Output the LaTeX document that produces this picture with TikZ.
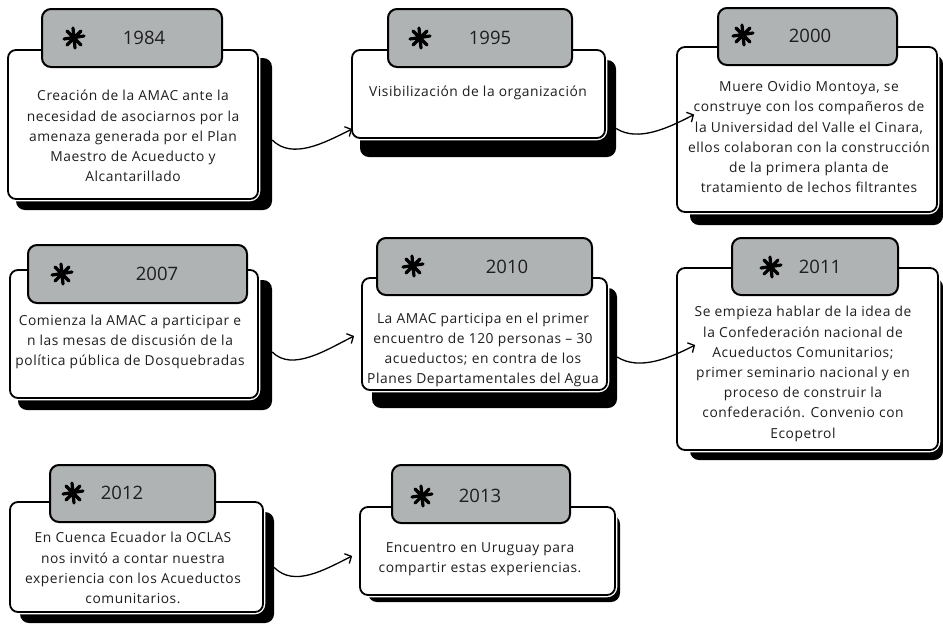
\documentclass[tikz,border=0pt]{standalone}
\usepackage{fontspec}
\setmainfont{Open Sans}
\newfontfamily\cardfont{Open Sans}[LetterSpace=4.0]
\usetikzlibrary{fit,calc,arrows.meta}
\definecolor{headgray}{RGB}{175,179,179}
\definecolor{inkgray}{RGB}{30,30,30}
\tikzset{
  shadowbox/.style={fill=black, rounded corners=9pt, inner sep=0pt},
  cardbox/.style={fill=white, draw=black, line width=1.8pt, rounded corners=8pt,
    inner sep=0pt, preaction={draw=white, line width=4.5pt}},
  headbox/.style={fill=headgray, draw=black, line width=2pt, rounded corners=9pt, inner sep=0pt},
  cardtext/.style={align=center, text=inkgray, font=\cardfont\fontsize{13.8}{20.2}\selectfont},
  yeartext/.style={text=inkgray, font=\fontsize{18.5}{22}\selectfont},
  link/.style={line width=1.3pt, -{Straight Barb[length=5pt,width=11pt]}},
  asterisk/.pic={
    \draw[line width=3.2pt, line cap=round]
      (-1,-10) -- (1,10)
      (-10,1) -- (10,-2)
      (-7,-7) -- (7,7)
      (-7,7) -- (7,-7);
  }
}
\begin{document}
\begin{tikzpicture}[x=1pt, y=-1pt]
  \useasboundingbox (0,0) rectangle (943,625);
  % 1984
  \node[shadowbox, fit={(16,58) (272,210)}] (shadow1984) {};
  \node[cardbox, fit={(8,50) (258,199)}] (box1984) {};
  \node[headbox, fit={(42,9) (222,67)}] (head1984) {};
  \pic at (74,38) {asterisk};
  \node[yeartext] (year1984) at (144,38) {1984};
  \node[cardtext] (text1984) at (133,136) {Creación de la AMAC ante la\\
    necesidad de asociarnos por la\\ amenaza generada por el Plan\\
    Maestro de Acueducto y\\ Alcantarillado};
  % 1995
  \node[shadowbox, fit={(360,60) (616,157)}] (shadow1995) {};
  \node[cardbox, fit={(352,50) (605,138)}] (box1995) {};
  \node[headbox, fit={(388,9) (572,67)}] (head1995) {};
  \pic at (420,38) {asterisk};
  \node[yeartext] (year1995) at (490,38) {1995};
  \node[cardtext] (text1995) at (478,93) {Visibilización de la organización};
  % 2000
  \node[shadowbox, fit={(690,55) (943,225)}] (shadow2000) {};
  \node[cardbox, fit={(677,47) (937,212)}] (box2000) {};
  \node[headbox, fit={(718,8) (897,65)}] (head2000) {};
  \pic at (743,35) {asterisk};
  \node[yeartext] (year2000) at (810,36) {2000};
  \node[cardtext] (text2000) at (809,137) {Muere Ovidio Montoya, se\\
    construye con los compañeros de\\ la Universidad del Valle el Cinara,\\
    ellos colaboran con la construcción\\ de la primera planta de\\
    tratamiento de lechos filtrantes};
  % 2007
  \node[shadowbox, fit={(18,280) (272,410)}] (shadow2007) {};
  \node[cardbox, fit={(10,270) (258,398)}] (box2007) {};
  \node[headbox, fit={(28,245) (247,303)}] (head2007) {};
  \pic at (62,274) {asterisk};
  \node[yeartext] (year2007) at (157,274) {2007};
  \node[cardtext] (text2007) at (130,342) {Comienza la AMAC a participar e\\
    n las mesas de discusión de la\\ política pública de Dosquebradas};
  % 2010
  \node[shadowbox, fit={(372,288) (617,408)}] (shadow2010) {};
  \node[cardbox, fit={(362,278) (607,390)}] (box2010) {};
  \node[headbox, fit={(377,238) (592,295)}] (head2010) {};
  \pic at (413,266) {asterisk};
  \node[yeartext] (year2010) at (507,267) {2010};
  \node[cardtext] (text2010) at (483,350) {La AMAC participa en el primer\\
    encuentro de 120 personas – 30\\ acueductos; en contra de los\\
    Planes Departamentales del Agua};
  % 2011
  \node[shadowbox, fit={(690,278) (943,460)}] (shadow2011) {};
  \node[cardbox, fit={(677,268) (938,450)}] (box2011) {};
  \node[headbox, fit={(732,238) (898,295)}] (head2011) {};
  \pic at (771,267) {asterisk};
  \node[yeartext] (year2011) at (820,267) {2011};
  \node[cardtext] (text2011) at (803,374) {Se empieza hablar de la idea de\\
    la Confederación nacional de\\ Acueductos Comunitarios;\\
    primer seminario nacional y en\\ proceso de construir la\\
    confederación. Convenio con\\ Ecopetrol};
  % 2012
  \node[shadowbox, fit={(20,512) (274,623)}] (shadow2012) {};
  \node[cardbox, fit={(10,502) (263,612)}] (box2012) {};
  \node[headbox, fit={(50,465) (215,522)}] (head2012) {};
  \pic at (73,493) {asterisk};
  \node[yeartext] (year2012) at (122,493) {2012};
  \node[cardtext] (text2012) at (133,568) {En Cuenca Ecuador la OCLAS\\
    nos invitó a contar nuestra\\ experiencia con los Acueductos\\
    comunitarios.};
  % 2013
  \node[shadowbox, fit={(368,515) (620,602)}] (shadow2013) {};
  \node[cardbox, fit={(360,507) (615,595)}] (box2013) {};
  \node[headbox, fit={(392,465) (570,523)}] (head2013) {};
  \pic at (422,496) {asterisk};
  \node[yeartext] (year2013) at (480,496) {2013};
  \node[cardtext] (text2013) at (480,559) {Encuentro en Uruguay para\\
    compartir estas experiencias.};
  % connectors
  \draw[link] ($(shadow1984.east)+(0,6)$) .. controls +(20,20) and +(-28,14) .. ($(box1995.west)+(1,35)$);
  \draw[link] ($(shadow1995.east)+(0,20)$) .. controls +(22,14) and +(-25,13) .. ($(box2000.west)+(18,-15)$);
  \draw[link] ($(shadow2007.east)+(0,7)$) .. controls +(20,20) and +(-28,14) .. ($(box2010.west)+(-7,2)$);
  \draw[link] ($(shadow2010.east)+(0,9)$) .. controls +(22,14) and +(-25,13) .. ($(box2011.west)+(19,-14)$);
  \draw[link] ($(shadow2012.east)+(0,0)$) .. controls +(20,20) and +(-28,14) .. ($(box2013.west)+(-7,5)$);
\end{tikzpicture}
\end{document}
